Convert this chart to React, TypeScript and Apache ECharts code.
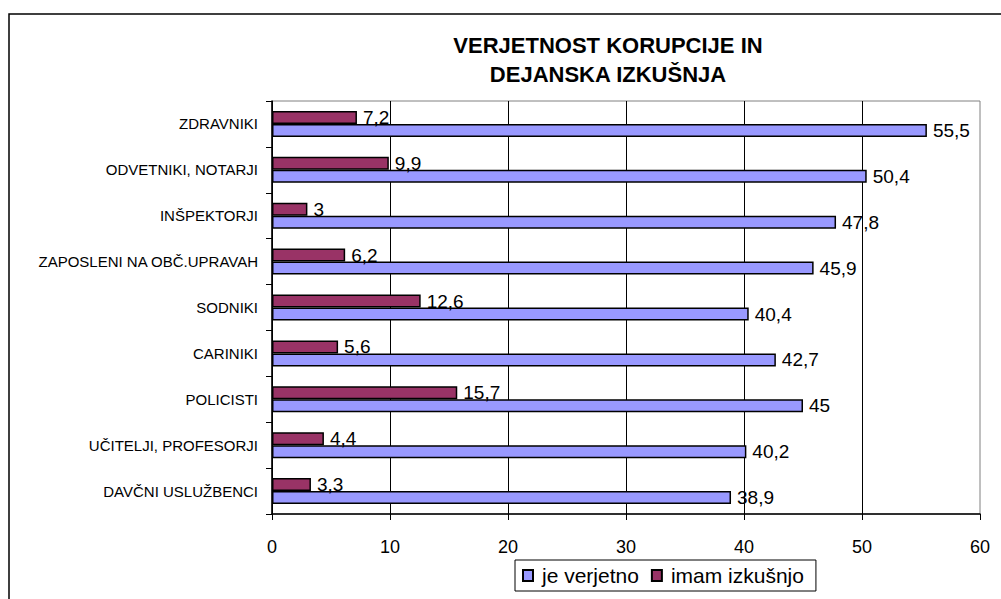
import React, { useEffect, useRef } from "react";
import * as echarts from "echarts";

const categories = [
  "ZDRAVNIKI",
  "ODVETNIKI, NOTARJI",
  "INŠPEKTORJI",
  "ZAPOSLENI NA OBČ.UPRAVAH",
  "SODNIKI",
  "CARINIKI",
  "POLICISTI",
  "UČITELJI, PROFESORJI",
  "DAVČNI USLUŽBENCI",
];
const jeVerjetno = [55.5, 50.4, 47.8, 45.9, 40.4, 42.7, 45, 40.2, 38.9];
const imamIzkusnjo = [7.2, 9.9, 3, 6.2, 12.6, 5.6, 15.7, 4.4, 3.3];
const seriesNames = ["je verjetno", "imam izkušnjo"];
const titleText = "VERJETNOST KORUPCIJE IN\nDEJANSKA IZKUŠNJA";

const FONT = '"Liberation Sans", Arial, sans-serif';

export default function App() {
  const ref = useRef<HTMLDivElement>(null);
  useEffect(() => {
    document.body.style.margin = "0";
    const chart = echarts.init(ref.current!, null, { renderer: "svg" });
    const fmt = (p: any) => String(p.value).replace(".", ",");
    const labelCfg = {
      show: true,
      position: "right",
      distance: 6,
      color: "#000",
      fontSize: 19,
      fontFamily: FONT,
      formatter: fmt,
    };
    chart.setOption({
      animation: false,
      backgroundColor: "#fff",
      textStyle: { fontFamily: FONT },
      title: {
        text: titleText,
        left: 603,
        top: 26,
        textAlign: "center",
        textStyle: {
          fontSize: 22,
          fontWeight: "bold",
          color: "#000",
          lineHeight: 29,
          fontFamily: FONT,
        },
      },
      graphic: [
        {
          type: "rect",
          shape: { x: 9, y: 14, width: 1010, height: 620 },
          style: { fill: "none", stroke: "#000", lineWidth: 1.5 },
          z: 100,
        },
      ],
      legend: {
        data: seriesNames,
        left: 515,
        top: 560,
        orient: "horizontal",
        icon: "rect",
        itemWidth: 10,
        itemHeight: 11,
        itemGap: 12,
        padding: [5, 12, 5, 7],
        borderColor: "#000",
        borderWidth: 1,
        textStyle: {
          fontSize: 21,
          color: "#000",
          fontFamily: FONT,
          padding: [0, 0, 0, 4],
        },
      },
      grid: {
        left: 272,
        top: 101,
        width: 708,
        height: 413,
        show: true,
        borderColor: "#808080",
        borderWidth: 1,
        backgroundColor: "transparent",
      },
      xAxis: {
        type: "value",
        min: 0,
        max: 60,
        interval: 10,
        axisLine: { show: true, lineStyle: { color: "#000", width: 1.5 } },
        axisTick: { show: true, length: 6, lineStyle: { color: "#000" } },
        axisLabel: { fontSize: 18, color: "#000", margin: 24, fontFamily: FONT },
        splitLine: {
          show: true,
          showMaxLine: false,
          lineStyle: { color: "#000", width: 1 },
        },
      },
      yAxis: {
        type: "category",
        data: categories,
        inverse: true,
        axisLine: { show: true, lineStyle: { color: "#000", width: 1.5 } },
        axisTick: { show: true, length: 6, lineStyle: { color: "#000" } },
        axisLabel: { fontSize: 15, color: "#000", margin: 14, fontFamily: FONT },
        splitLine: { show: false },
      },
      series: [
        {
          name: seriesNames[1],
          type: "bar",
          data: imamIzkusnjo,
          barWidth: 13,
          barGap: "0%",
          itemStyle: { color: "#993366", borderColor: "#000", borderWidth: 1.5 },
          label: labelCfg,
        },
        {
          name: seriesNames[0],
          type: "bar",
          data: jeVerjetno,
          barWidth: 13,
          barGap: "0%",
          itemStyle: { color: "#9999FF", borderColor: "#000", borderWidth: 1.5 },
          label: labelCfg,
        },
      ],
    });
    return () => chart.dispose();
  }, []);
  return (
    <div
      ref={ref}
      style={{ position: "fixed", left: 0, top: 0, width: 1001, height: 599 }}
    />
  );
}
